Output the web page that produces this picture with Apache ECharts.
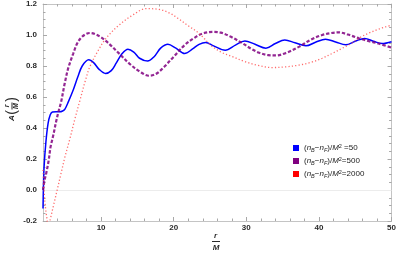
<!DOCTYPE html>
<html><head><meta charset="utf-8">
<script src="https://cdn.jsdelivr.net/npm/echarts@6/dist/echarts.min.js"></script>
<style>html,body{margin:0;padding:0;background:#fff}#c{width:399px;height:258px}</style>
</head><body><div id="c"></div>
<script>
// ---- data ----
const blueX = [2.0,2.05,2.15,2.4,2.7,3.0,3.3,3.8,4.3,4.7,5.0,5.5,6.2,6.8,7.4,8.3,9.0,9.7,10.6,11.4,12.1,12.9,13.7,14.5,15.3,16.4,17.3,18.2,19.2,20.3,21.5,22.6,23.5,24.4,25.5,27.1,28.5,29.8,31.2,32.7,34.0,35.3,36.7,38.2,39.6,40.9,42.3,43.7,45.0,46.3,47.5,48.7,50.0];
const blueY = [-0.12,0.0,0.15,0.31,0.43,0.485,0.503,0.505,0.505,0.51,0.52,0.57,0.65,0.73,0.80,0.84,0.82,0.78,0.752,0.77,0.82,0.88,0.908,0.89,0.85,0.832,0.86,0.915,0.94,0.915,0.88,0.91,0.94,0.952,0.93,0.902,0.935,0.962,0.94,0.915,0.945,0.968,0.95,0.93,0.955,0.973,0.955,0.937,0.96,0.978,0.96,0.945,0.957];

const purpleX = [2.0,2.2,2.45,2.78,3.05,3.4,3.8,4.1,4.5,5.0,5.5,6.16,6.7,7.3,8.0,8.5,9.2,10.0,10.7,11.4,12.5,13.9,15.3,16.6,17.6,18.7,20.0,21.5,22.8,24.0,25.5,26.5,27.8,29.5,30.7,31.8,33.0,34.1,35.5,37.3,38.9,40.45,41.6,42.7,44.0,45.5,46.9,48.2,50.0];
const purpleY = [0.0,0.06,0.11,0.19,0.28,0.35,0.44,0.5,0.57,0.69,0.79,0.88,0.945,0.985,1.008,1.013,1.005,0.985,0.96,0.93,0.88,0.815,0.765,0.737,0.75,0.795,0.86,0.935,0.98,1.01,1.02,1.015,0.99,0.946,0.91,0.885,0.87,0.868,0.885,0.925,0.97,1.0,1.012,1.017,1.003,0.979,0.96,0.945,0.918];

const redX = [2.0,2.25,2.5,2.75,3.0,3.5,4.0,4.5,5.0,5.7,6.4,7.1,7.8,8.45,9.6,10.7,12.5,14.4,16.2,18.0,19.5,20.5,22.0,23.5,25.1,26.5,28.1,29.7,31.5,33.6,35.5,37.25,39.0,40.45,42.0,43.2,44.6,45.9,47.0,48.2,49.2,50.0];
const redY = [0.13,-0.07,-0.17,-0.24,-0.19,-0.09,0.01,0.11,0.21,0.33,0.46,0.58,0.70,0.795,0.90,0.98,1.065,1.13,1.17,1.165,1.14,1.11,1.06,1.01,0.935,0.89,0.86,0.83,0.805,0.79,0.795,0.806,0.825,0.85,0.885,0.914,0.95,0.99,1.015,1.037,1.053,1.063];

const seriesNames = ['n50','n500','n2000'];
const legendValues = [' =50','=500','=2000'];
const seriesColors = ['#0000ff','#800080','#ff0000'];

const xMajorTicks = [10,20,30,40,50];
const xMinorTicks = [4,6,8,12,14,16,18,22,24,26,28,32,34,36,38,42,44,46,48];
const yTickLabels = [-0.2,0.0,0.2,0.4,0.6,0.8,1.0,1.2];

function zip(xs, ys){ return xs.map((x,i)=>[x, ys[i]]); }

const frameColor = '#c4c4c4';
const tickColor = '#a8a8a8';
const labelFont = {fontFamily:'Liberation Sans', fontSize:8, fontWeight:'bold', color:'#2a2a2a'};

function xAxisDef(pos, ticks, len, withLabels, showLine){
  return {
    type:'value', min:2, max:50, position:pos, gridIndex:0,
    axisLine:{show:showLine, onZero:false, lineStyle:{color:frameColor, width:1}},
    axisTick:{show:true, inside:true, length:len, customValues:ticks, lineStyle:{color:tickColor, width:1}},
    axisLabel:{show:withLabels, customValues:xMajorTicks, margin:3, ...labelFont},
    splitLine:{show:false}, minorTick:{show:false}
  };
}
function yAxisDef(pos, withLabels){
  return {
    type:'value', min:-0.2, max:1.2, interval:0.2, position:pos,
    axisLine:{show:true, onZero:false, lineStyle:{color:frameColor, width:1}},
    axisTick:{show:true, inside:true, length:4, lineStyle:{color:tickColor, width:1}},
    minorTick:{show:true, splitNumber:4, length:2.5, lineStyle:{color:tickColor, width:1}},
    axisLabel:{show:withLabels, margin:6, formatter:v=>v.toFixed(1), ...labelFont},
    splitLine:{show:false}
  };
}

const rich = {
  u:{fontFamily:'Liberation Sans', fontSize:8, color:'#222', lineHeight:10, verticalAlign:'middle'},
  i:{fontFamily:'Liberation Sans', fontSize:8, fontStyle:'italic', color:'#222', lineHeight:10, verticalAlign:'middle'},
  s:{fontFamily:'Liberation Sans', fontSize:5.5, fontStyle:'italic', color:'#222', lineHeight:10, verticalAlign:'bottom'},
  p:{fontFamily:'Liberation Sans', fontSize:5.5, color:'#222', lineHeight:10, verticalAlign:'top'}
};

const chart = echarts.init(document.getElementById('c'), null, {renderer:'canvas'});
chart.setOption({
  animation:false,
  backgroundColor:'#ffffff',
  grid:{left:43, right:6, top:4, bottom:37, containLabel:false},
  xAxis:[
    xAxisDef('bottom', xMajorTicks, 4, true, true),
    xAxisDef('bottom', xMinorTicks, 2.5, false, false),
    xAxisDef('top', xMajorTicks, 4, false, true),
    xAxisDef('top', xMinorTicks, 2.5, false, false)
  ],
  yAxis:[ yAxisDef('left', true), yAxisDef('right', false) ],
  legend:{
    orient:'vertical', left:288, top:138, itemWidth:6, itemHeight:6, itemGap:3,
    icon:'rect',
    data: seriesNames.map((n,i)=>({name:n, itemStyle:{color:seriesColors[i]}})),
    formatter: function(name){
      const k = seriesNames.indexOf(name);
      return '{u|(}{i|n}{s|B}{u|\u2212}{i|n}{s|F}{u|)/}{i|M}{p|2}{u|' + legendValues[k] + '}';
    },
    textStyle:{rich:rich}
  },
  series:[
    {
      name:seriesNames[0], type:'line', xAxisIndex:0, yAxisIndex:0,
      data:zip(blueX, blueY), showSymbol:false, smooth:0.35,
      itemStyle:{color:seriesColors[0]},
      lineStyle:{color:seriesColors[0], width:1.5},
      markLine:{silent:true, symbol:'none', label:{show:false},
        lineStyle:{color:'#ececec', width:1, type:'solid'}, data:[{yAxis:0}], z:1},
      z:2
    },
    {
      name:seriesNames[1], type:'line', xAxisIndex:0, yAxisIndex:0,
      data:zip(purpleX, purpleY), showSymbol:false, smooth:0.35,
      itemStyle:{color:seriesColors[1]},
      lineStyle:{color:'rgba(128,0,128,0.85)', width:2.2, type:[3.4,1.9]},
      z:3
    },
    {
      name:seriesNames[2], type:'line', xAxisIndex:0, yAxisIndex:0,
      data:zip(redX, redY), showSymbol:false, smooth:0.35,
      itemStyle:{color:seriesColors[2]},
      lineStyle:{color:'rgba(255,70,70,0.8)', width:1.3, type:[1.2,2.2]},
      z:4
    }
  ],
  graphic:[
    // x axis title r/M
    {type:'text', x:215.5, y:236, style:{text:'r', align:'center', verticalAlign:'middle', textAlign:'center', textVerticalAlign:'middle', font:'italic bold 8px "Liberation Sans"', fill:'#2a2a2a'}},
    {type:'line', shape:{x1:212, y1:241.5, x2:220, y2:241.5}, style:{stroke:'#2a2a2a', lineWidth:1}},
    {type:'text', x:216, y:247.5, style:{text:'M', align:'center', verticalAlign:'middle', textAlign:'center', textVerticalAlign:'middle', font:'italic bold 8px "Liberation Sans"', fill:'#2a2a2a'}},
    // y axis title A(r/M), rotated
    {type:'group', x:12, y:106, rotation:Math.PI/2, children:[
      {type:'text', x:-12, y:0, style:{text:'A', align:'center', verticalAlign:'middle', textAlign:'center', textVerticalAlign:'middle', font:'italic bold 8px "Liberation Sans"', fill:'#2a2a2a'}},
      {type:'text', x:-6.5, y:0, style:{text:'(', align:'center', verticalAlign:'middle', textAlign:'center', textVerticalAlign:'middle', font:'14px "Liberation Sans"', fill:'#2a2a2a'}},
      {type:'text', x:0, y:-4.5, style:{text:'r', align:'center', verticalAlign:'middle', textAlign:'center', textVerticalAlign:'middle', font:'italic bold 7px "Liberation Sans"', fill:'#2a2a2a'}},
      {type:'line', shape:{x1:-3.5, y1:0, x2:3.5, y2:0}, style:{stroke:'#2a2a2a', lineWidth:1}},
      {type:'text', x:0, y:4.5, style:{text:'M', align:'center', verticalAlign:'middle', textAlign:'center', textVerticalAlign:'middle', font:'italic bold 7px "Liberation Sans"', fill:'#2a2a2a'}},
      {type:'text', x:6.5, y:0, style:{text:')', align:'center', verticalAlign:'middle', textAlign:'center', textVerticalAlign:'middle', font:'14px "Liberation Sans"', fill:'#2a2a2a'}}
    ]}
  ]
});
</script>
</body></html>
